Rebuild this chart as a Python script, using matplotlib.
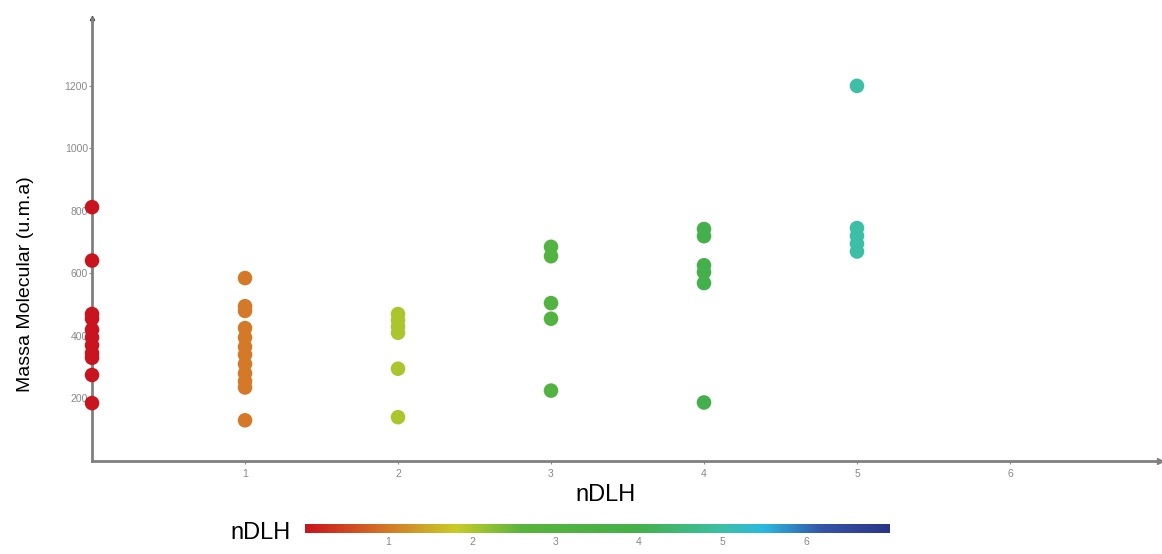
import matplotlib.pyplot as plt
import numpy as np
from matplotlib.colors import LinearSegmentedColormap, Normalize
from matplotlib.cm import ScalarMappable

plt.rcParams['font.family'] = ['Liberation Sans', 'DejaVu Sans']

# molecular mass (u.m.a) grouped by nDLH
ndlh_groups = [0, 1, 2, 3, 4, 5]
massa = [
    [812, 641, 470, 455, 420, 395, 370, 345, 330, 275, 185],
    [585, 495, 480, 425, 395, 365, 340, 310, 280, 255, 235, 130],
    [470, 450, 430, 410, 295, 140],
    [685, 655, 505, 455, 225],
    [742, 719, 626, 604, 569, 187],
    [1200, 745, 720, 695, 670],
]

y_ticks = [200, 400, 600, 800, 1000, 1200]
x_ticks = [1, 2, 3, 4, 5, 6]
cbar_ticks = [1, 2, 3, 4, 5, 6]

# red -> orange -> yellow -> green -> cyan -> blue scale for nDLH
vmin, vmax = 0.0, 7.0
nodes = [vmin, 1.0, 1.8, 2.6, 4.0, 5.0, 5.5, 6.2, vmax]
node_colors = ['#c8141e', '#d47a28', '#c8cc28', '#58b43c', '#44b04a',
               '#3cbfa6', '#2ab8e0', '#3454a8', '#2a3588']
cmap = LinearSegmentedColormap.from_list(
    'ndlh', list(zip([(n - vmin) / (vmax - vmin) for n in nodes], node_colors)))
norm = Normalize(vmin, vmax)

fig = plt.figure(figsize=(11.62, 5.54), dpi=100)
ax = fig.add_axes([0.0792, 0.168, 0.919, 0.80])

for g, vals in zip(ndlh_groups, massa):
    xs = np.full(len(vals), g)
    ax.scatter(xs, vals, s=110, color=cmap(norm(g)), edgecolor='none',
               zorder=3, clip_on=False)

ax.set_xlim(0, 6.98)
ax.set_ylim(0, 1418)
ax.set_xticks(x_ticks)
ax.set_yticks(y_ticks)
ax.tick_params(axis='both', colors='#888888', labelsize=7.5, length=2, width=0.8)
ax.tick_params(axis='y', pad=1)
for side in ['top', 'right']:
    ax.spines[side].set_visible(False)
for side in ['left', 'bottom']:
    ax.spines[side].set_color('#808080')
    ax.spines[side].set_linewidth(2)

# arrow tips at the axis ends
ax.plot(1, 0, '>', color='#808080', ms=4, transform=ax.transAxes, clip_on=False)
ax.plot(0, 1, '^', color='#404040', ms=3, transform=ax.transAxes, clip_on=False)

ax.set_xlabel('nDLH', fontsize=17)
ax.xaxis.set_label_coords(0.481, -0.052)
ax.set_ylabel('Massa Molecular (u.m.a)', fontsize=14)
ax.yaxis.set_label_coords(-0.054, 0.40)

# horizontal colour bar under the plot
cax = fig.add_axes([0.2625, 0.038, 0.503, 0.017])
sm = ScalarMappable(norm=norm, cmap=cmap)
cb = fig.colorbar(sm, cax=cax, orientation='horizontal')
cb.outline.set_visible(False)
cb.set_ticks(cbar_ticks)
cax.tick_params(colors='#888888', labelsize=7.5, length=0, pad=3)
fig.text(0.25, 0.038, 'nDLH', fontsize=17, ha='right', va='center')

fig.savefig('out.png', dpi=100, facecolor='white')
